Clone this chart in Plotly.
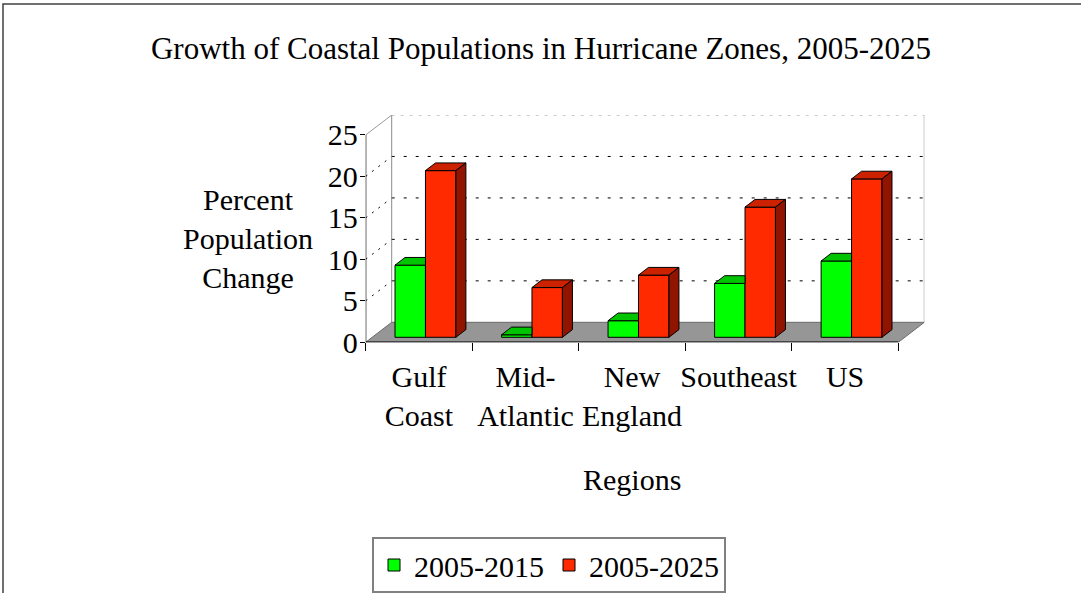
import plotly.graph_objects as go

# ---------------- data ----------------
regions = ["Gulf<br>Coast", "Mid-<br>Atlantic", "New<br>England", "Southeast", "US"]
series_names = ["2005-2015", "2005-2025"]
change_2015 = [8.7, 0.3, 2.0, 6.5, 9.2]
change_2025 = [20.1, 6.0, 7.5, 15.7, 19.1]
y_ticks = [0, 5, 10, 15, 20, 25]

# ---------------- geometry / style ----------------
W, H = 1081, 593
FONT = "Liberation Serif"
DX, DY = 0.244, 2.41       # full depth offset (x in category units, y in value units)
F0 = 0.25                  # depth fraction of bar front faces
FB = 0.385                 # bar depth as fraction of full depth
BW = 1 / 3.5               # bar width (gap width 150%)
GAP = 0.75 * BW
YMAX = y_ticks[-1]
NCAT = len(regions)

front_cols = ["#00FF00", "#FF2A00"]
top_cols = ["#00C400", "#CC2200"]
side_cols = ["#008A00", "#901400"]

fig = go.Figure()

base = F0 * DY
ddx, ddy = FB * DX, FB * DY
vals = [change_2015, change_2025]

# front faces as real bars
for s in range(2):
    xs = [i + GAP + F0 * DX + BW * (s + 0.5) for i in range(NCAT)]
    fig.add_trace(go.Bar(
        x=xs, y=vals[s], base=[base] * NCAT, width=BW,
        name=series_names[s],
        marker=dict(color=front_cols[s], line=dict(color="black", width=1)),
        hoverinfo="skip",
    ))

def poly(px, py, color):
    fig.add_trace(go.Scatter(
        x=px + [px[0]], y=py + [py[0]], mode="lines", fill="toself",
        fillcolor=color, line=dict(color="black", width=1),
        showlegend=False, hoverinfo="skip"))

for i in range(NCAT):
    for s in range(2):
        xl = i + GAP + F0 * DX + BW * s
        xr = xl + BW
        yt = base + vals[s][i]
        hidden = s == 0 and vals[1][i] + base >= yt + ddy
        if hidden:
            poly([xl, xr, xr, xl + ddx], [yt, yt, yt + ddy, yt + ddy], top_cols[s])
        else:
            poly([xl, xr, xr + ddx, xl + ddx], [yt, yt, yt + ddy, yt + ddy], top_cols[s])
            poly([xr, xr + ddx, xr + ddx, xr], [base, base + ddy, yt + ddy, yt], side_cols[s])

shapes = []
shapes.append(dict(type="rect", xref="x", yref="y", x0=DX, x1=NCAT + DX, y0=DY, y1=YMAX + DY,
                   fillcolor="white", line=dict(width=0), layer="below"))
for v in y_ticks[1:-1]:
    shapes.append(dict(type="line", xref="x", yref="y", x0=DX, x1=NCAT + DX, y0=v + DY, y1=v + DY,
                       line=dict(color="black", width=1, dash="3px,9px"), layer="below"))
    shapes.append(dict(type="line", xref="x", yref="y", x0=0, x1=DX, y0=v, y1=v + DY,
                       line=dict(color="black", width=1, dash="2px,6px"), layer="below"))
shapes.append(dict(type="line", xref="x", yref="y", x0=DX, x1=NCAT + DX, y0=YMAX + DY, y1=YMAX + DY,
                   line=dict(color="#9a9a9a", width=1, dash="3px,6px"), layer="below"))
shapes.append(dict(type="line", xref="x", yref="y", x0=DX, x1=DX, y0=DY, y1=YMAX + DY,
                   line=dict(color="#8a8a8a", width=1), layer="below"))
shapes.append(dict(type="line", xref="x", yref="y", x0=NCAT + DX, x1=NCAT + DX, y0=DY, y1=YMAX + DY,
                   line=dict(color="#8a8a8a", width=1), layer="below"))
shapes.append(dict(type="line", xref="x", yref="y", x0=0, x1=DX, y0=YMAX, y1=YMAX + DY,
                   line=dict(color="#9a9a9a", width=1), layer="below"))
shapes.append(dict(type="path", xref="x", yref="y",
                   path=f"M 0,0 L {NCAT},0 L {NCAT + DX},{DY} L {DX},{DY} Z",
                   fillcolor="#969696", line=dict(color="#6a6a6a", width=1), layer="below"))
shapes.append(dict(type="line", xref="x", yref="y", x0=0, x1=0, y0=0, y1=YMAX,
                   line=dict(color="black", width=1.2), layer="above"))
shapes.append(dict(type="line", xref="x", yref="y", x0=0, x1=NCAT, y0=0, y1=0,
                   line=dict(color="black", width=1.5), layer="above"))
shapes.append(dict(type="rect", xref="paper", yref="paper", x0=3 / W, x1=1.05, y0=-0.1, y1=(H - 4) / H,
                   line=dict(color="#404040", width=1.5), fillcolor="rgba(0,0,0,0)", layer="below"))

fig.update_layout(
    width=W, height=H, autosize=False,
    margin=dict(l=0, r=0, t=0, b=0, autoexpand=False),
    paper_bgcolor="white", plot_bgcolor="rgba(0,0,0,0)",
    font=dict(family=FONT, size=30, color="black"),
    barmode="overlay",
    title=dict(text="Growth of Coastal Populations in Hurricane Zones, 2005-2025",
               x=541 / W, xanchor="center", y=1 - 48 / H, yanchor="middle",
               font=dict(family=FONT, size=31, color="black")),
    xaxis=dict(range=[0, NCAT + DX], domain=[365.7 / W, 924.3 / W], automargin=False,
               tickmode="array", tickvals=[i + 0.5 for i in range(NCAT)], ticktext=regions,
               tickangle=0, ticks="", showgrid=False, zeroline=False, showline=False,
               tickfont=dict(family=FONT, size=30),
               ticklabelstandoff=14,
               minor=dict(tickvals=list(range(NCAT + 1)), ticks="outside", ticklen=8,
                          tickcolor="black", tickwidth=1, showgrid=False)),
    yaxis=dict(range=[0, YMAX + DY], domain=[(H - 342.3) / H, (H - 115) / H], automargin=False,
               tickmode="array", tickvals=y_ticks, ticks="outside", ticklen=5,
               tickcolor="black", showgrid=False, zeroline=False, showline=False,
               ticklabelstandoff=-4,
               tickfont=dict(family=FONT, size=30)),
    legend=dict(orientation="h", x=549 / W, xanchor="center", y=(H - 537) / H, yanchor="top",
                bordercolor="#808080", borderwidth=2, bgcolor="white",
                font=dict(family=FONT, size=30), traceorder="normal"),
    shapes=shapes,
    annotations=[
        dict(text="Percent<br>Population<br>Change", xref="paper", yref="paper",
             x=248 / W, y=1 - 238 / H, xanchor="center", yanchor="middle", showarrow=False,
             font=dict(family=FONT, size=30)),
        dict(text="Regions", xref="x", yref="paper", x=NCAT / 2, y=1 - 479 / H,
             xanchor="center", yanchor="middle", showarrow=False,
             font=dict(family=FONT, size=30)),
    ],
)

fig.write_html("out.html")
